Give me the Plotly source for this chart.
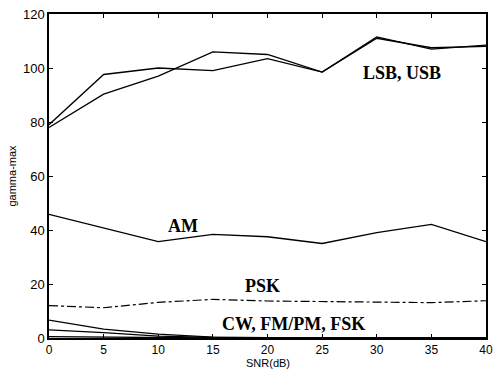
import plotly.graph_objects as go

# SNR grid (dB)
snr = [0, 5, 10, 15, 20, 25, 30, 35, 40]

# gamma-max per modulation type
lsb = [78, 90.3, 97, 106, 105, 98.5, 111.5, 107, 108.5]
usb = [79, 97.6, 100, 99, 103.5, 98.5, 111, 107.5, 108]
am = [45.8, 40.8, 35.7, 38.4, 37.5, 35, 39, 42.1, 35.7]
psk = [12, 11.2, 13.2, 14.3, 13.7, 13.5, 13.1, 13.1, 13.8]
cw = [6.6, 3.3, 1.4, 0.3, 0.1, 0, 0, 0, 0]
fmpm = [3, 2, 0.7, 0.2, 0, 0, 0, 0, 0]
fsk = [0.5, 0.3, 0.1, 0, 0, 0, 0, 0, 0]

# group labels: text, x, y
labels = ["LSB, USB", "AM", "PSK", "CW, FM/PM, FSK"]
label_x = [32.3, 12.3, 19.5, 22.4]
label_y = [98, 41.6, 19.3, 5.1]

x_title = "SNR(dB)"
y_title = "gamma-max"

fig = go.Figure()

solid = dict(color="black", width=1.3)
for ys in (lsb, usb, am, cw, fmpm, fsk):
    fig.add_trace(go.Scatter(x=snr, y=ys, mode="lines", line=solid,
                             showlegend=False, cliponaxis=False))
fig.add_trace(go.Scatter(x=snr, y=psk, mode="lines",
                         line=dict(color="black", width=1.2, dash="dashdot"),
                         showlegend=False))

for t, lx, ly in zip(labels, label_x, label_y):
    fig.add_annotation(x=lx, y=ly, text="<b>%s</b>" % t, showarrow=False,
                       font=dict(family="Liberation Serif, Times New Roman, serif",
                                 size=18, color="black"))

sans = "Liberation Sans, Arial, sans-serif"

# x-axis title sits at the bottom edge, under the plot centre
fig.add_annotation(x=0.5, y=-0.099, xref="paper", yref="paper",
                   xanchor="center", yanchor="bottom", showarrow=False,
                   borderpad=0,
                   text=x_title, font=dict(family=sans, size=11, color="black"))

axis_common = dict(
    showgrid=False, zeroline=False, ticks="inside", ticklen=4,
    tickcolor="black", showline=True, linecolor="black", linewidth=1.5,
    mirror="ticks", ticklabeloverflow="allow", automargin=False,
)

fig.update_xaxes(range=[0, 40], dtick=5, tick0=0,
                 tickfont=dict(family=sans, size=12, color="black"),
                 **axis_common)
fig.update_yaxes(range=[0, 120], dtick=20, tick0=0,
                 tickfont=dict(family=sans, size=13, color="black"),
                 title=dict(text=y_title, standoff=4,
                            font=dict(family=sans, size=11, color="black")),
                 **axis_common)

fig.update_layout(
    width=493, height=370,
    margin=dict(l=49, r=7, t=14, b=32),
    plot_bgcolor="white", paper_bgcolor="white",
)

fig.write_html("out.html")
